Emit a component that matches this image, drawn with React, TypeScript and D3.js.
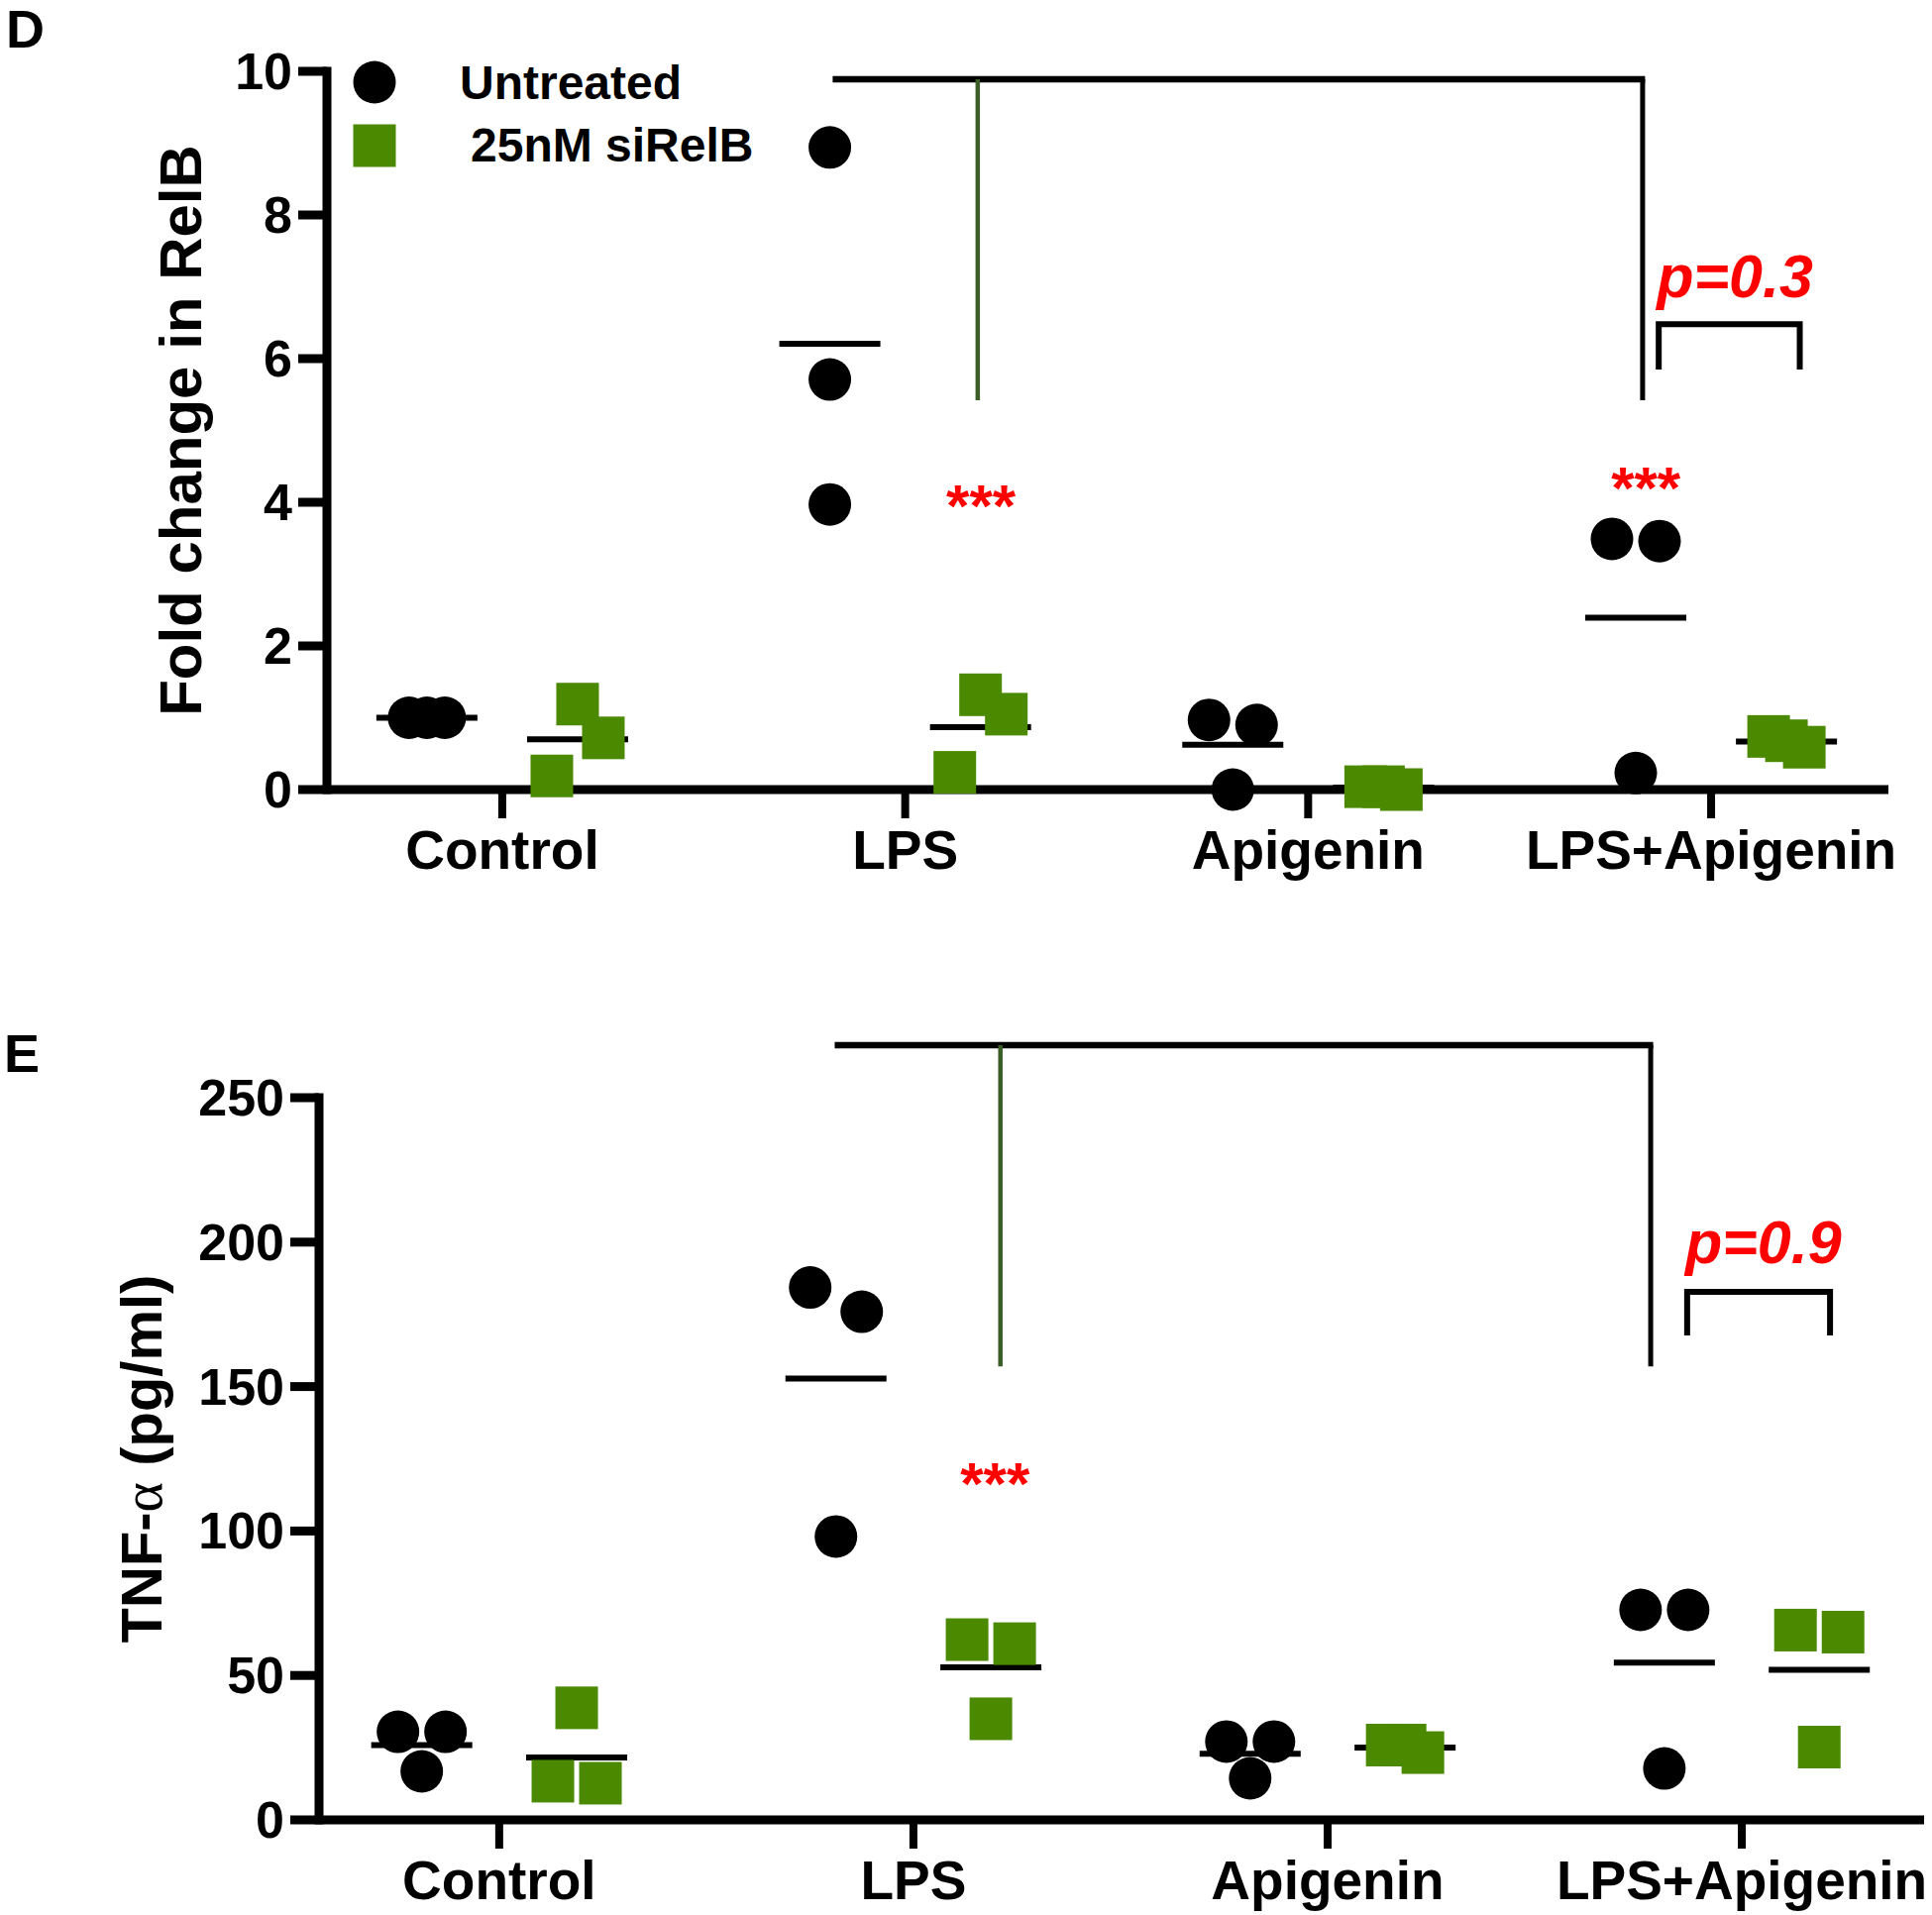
import React from "react";
import * as d3 from "d3";

const groups = ["Control", "LPS", "Apigenin", "LPS+Apigenin"];
const seriesNames = ["Untreated", "25nM siRelB"];
const relbTicks = [0, 2, 4, 6, 8, 10];
const tnfTicks = [0, 50, 100, 150, 200, 250];

const relbUntreated = [
  [1.0, 1.0, 1.0],
  [8.94, 5.71, 3.97],
  [0.97, 0.9, 0.0],
  [3.49, 3.46, 0.23],
];
const relbSiRelB = [
  [1.19, 0.72, 0.19],
  [1.32, 1.05, 0.24],
  [0.04, 0.04, 0.0],
  [0.74, 0.68, 0.59],
];
const tnfUntreated = [
  [30.5, 30.5, 16.8],
  [184.3, 175.9, 98.1],
  [27.1, 27.1, 14.4],
  [72.7, 72.7, 17.8],
];
const tnfSiRelB = [
  [38.8, 13.4, 12.7],
  [62.4, 61.0, 35.0],
  [25.9, 25.9, 23.3],
  [65.7, 65.0, 25.2],
];

// significance annotations (x in group-index units, y in data units)
const relbBracket = { top: 9.89, bottom: 5.42, from: 0.82, mid: 1.18, to: 2.83 };
const tnfBracket = { top: 268.2, bottom: 157.0, from: 0.81, mid: 1.21, to: 2.78 };
const relbStars = [
  { x: 1.188, y: 3.67 },
  { x: 2.838, y: 3.92 },
];
const tnfStars = [{ x: 1.197, y: 109.4 }];
const relbP = { label: "p=0.3", x: 3.059, y: 6.86, top: 6.48, leg: 5.85, from: 2.87, to: 3.22 };
const tnfP = { label: "p=0.9", x: 3.052, y: 192.7, top: 182.8, leg: 167.7, from: 2.868, to: 3.213 };

const GREEN = "#4b8a00";
const DARK_GREEN = "#3b5e26";
const RED = "#ff0000";
const FONT = "'Liberation Sans', Arial, Helvetica, sans-serif";
const SIZE = 43;
const SERIES_OFFSET = 0.187;
const X_DOMAIN: [number, number] = [-0.435, 3.44];

// simple column-scatter layout: near-equal values spread symmetrically,
// overlapping singles pushed sideways
function swarm(values: number[], y: (v: number) => number): number[] {
  const order = values.map((v, i) => i).sort((a, b) => values[b] - values[a]);
  const rows: number[][] = [];
  order.forEach((i) => {
    const row = rows[rows.length - 1];
    if (row && Math.abs(y(values[i]) - y(values[row[0]])) < 15) row.push(i);
    else rows.push([i]);
  });
  const off = new Array(values.length).fill(0);
  const placed: { dx: number; py: number }[] = [];
  const pushedBy: (number | null)[] = new Array(values.length).fill(null);
  const alternated = new Set<number>();
  rows.forEach((row, ri) => {
    if (row.length > 1) {
      const n = row.length;
      const sp = n === 2 ? 48 : 18;
      row.forEach((i, k) => {
        off[i] = (k - (n - 1) / 2) * sp;
        placed.push({ dx: off[i], py: y(values[i]) });
      });
    } else {
      const i = row[0];
      const py = y(values[i]);
      const prev = ri > 0 ? rows[ri - 1] : null;
      let chosen = 0;
      if (prev && prev.length === 1 && off[prev[0]] > 0 && Math.abs(y(values[prev[0]]) - py) < 2 * SIZE) {
        chosen = -26;
        alternated.add(prev[0]);
      } else {
        const cands = [0, 26, -26, 52, -52];
        for (const c of cands) {
          const hit = placed.some((p) => Math.abs(p.py - py) < SIZE && Math.abs(p.dx - c) < 20);
          if (!hit) {
            chosen = c;
            break;
          }
        }
        if (chosen === 26 && prev && prev.length === 1 && off[prev[0]] === 0) pushedBy[i] = prev[0];
      }
      off[i] = chosen;
      placed.push({ dx: chosen, py });
    }
  });
  // a lone overlapping pair is balanced around the centre
  pushedBy.forEach((p, i) => {
    if (p !== null && !alternated.has(i)) off[p] = -26;
  });
  return off;
}

type PanelCfg = {
  letter: string;
  letterPos: [number, number];
  xRange: [number, number];
  yRange: [number, number];
  yDomain: [number, number];
  ticks: number[];
  title: React.ReactNode;
  titleSize: number;
  titleDx: number;
  untreated: number[][];
  siRelB: number[][];
  bracket: typeof relbBracket;
  stars: { x: number; y: number }[];
  p: typeof relbP;
  legend: boolean;
};

function Panel({ cfg }: { cfg: PanelCfg }) {
  const x = d3.scaleLinear().domain(X_DOMAIN).range(cfg.xRange);
  const y = d3.scaleLinear().domain(cfg.yDomain).range(cfg.yRange);
  const ax = cfg.xRange[0];
  const ay = cfg.yRange[0];
  const top = cfg.yRange[1];
  const series = [
    { data: cfg.untreated, off: -SERIES_OFFSET, shape: "circle" },
    { data: cfg.siRelB, off: SERIES_OFFSET, shape: "square" },
  ];
  const b = cfg.bracket;
  return (
    <g>
      <text x={cfg.letterPos[0]} y={cfg.letterPos[1]} fontSize={54} fontWeight="bold" fontFamily={FONT}>
        {cfg.letter}
      </text>
      {/* y axis */}
      <line x1={ax} x2={ax} y1={top - 4.5} y2={ay + 4.5} stroke="#000" strokeWidth={9} />
      {cfg.ticks.map((t) => (
        <g key={t}>
          <line x1={ax - 29} x2={ax} y1={y(t)} y2={y(t)} stroke="#000" strokeWidth={9} />
          <text
            x={ax - 35}
            y={y(t) + 18}
            textAnchor="end"
            fontSize={52}
            fontWeight="bold"
            fontFamily={FONT}
          >
            {t}
          </text>
        </g>
      ))}
      {/* x axis */}
      <line x1={ax} x2={cfg.xRange[1]} y1={ay} y2={ay} stroke="#000" strokeWidth={9} />
      {groups.map((g, i) => (
        <g key={g}>
          <line x1={x(i)} x2={x(i)} y1={ay} y2={ay + 29} stroke="#000" strokeWidth={8} />
          <text x={x(i)} y={ay + 80} textAnchor="middle" fontSize={55} fontWeight="bold" fontFamily={FONT}>
            {g}
          </text>
        </g>
      ))}
      <text
        transform={`translate(${ax - cfg.titleDx},${(ay + top) / 2}) rotate(-90)`}
        textAnchor="middle"
        fontSize={cfg.titleSize}
        fontWeight="bold"
        fontFamily={FONT}
      >
        {cfg.title}
      </text>
      {/* mean lines */}
      {series.map((s, si) =>
        s.data.map((vals, gi) => {
          const m = d3.mean(vals) as number;
          const cx = x(gi + s.off);
          return (
            <line
              key={`m${si}-${gi}`}
              x1={cx - 51}
              x2={cx + 51}
              y1={y(m)}
              y2={y(m)}
              stroke="#000"
              strokeWidth={6}
            />
          );
        })
      )}
      {/* points */}
      {series.map((s, si) =>
        s.data.map((vals, gi) => {
          const offs = swarm(vals, y);
          const cx = x(gi + s.off);
          return vals.map((v, k) =>
            s.shape === "circle" ? (
              <circle key={`p${si}-${gi}-${k}`} cx={cx + offs[k]} cy={y(v)} r={SIZE / 2} fill="#000" />
            ) : (
              <rect
                key={`p${si}-${gi}-${k}`}
                x={cx + offs[k] - SIZE / 2}
                y={y(v) - SIZE / 2}
                width={SIZE}
                height={SIZE}
                fill={GREEN}
              />
            )
          );
        })
      )}
      {/* big comparison bracket */}
      <line x1={x(b.from)} x2={x(b.to) + 2.5} y1={y(b.top)} y2={y(b.top)} stroke="#000" strokeWidth={6.5} />
      <line x1={x(b.mid)} x2={x(b.mid)} y1={y(b.top)} y2={y(b.bottom)} stroke={DARK_GREEN} strokeWidth={4.5} />
      <line x1={x(b.to)} x2={x(b.to)} y1={y(b.top)} y2={y(b.bottom)} stroke="#000" strokeWidth={5} />
      {cfg.stars.map((s, i) => (
        <text
          key={i}
          x={x(s.x)}
          y={y(s.y)}
          textAnchor="middle"
          fontSize={60}
          fontWeight="bold"
          fill={RED}
          fontFamily={FONT}
        >
          ***
        </text>
      ))}
      {/* p value bracket */}
      <text
        x={x(cfg.p.x)}
        y={y(cfg.p.y)}
        textAnchor="middle"
        fontSize={61}
        fontWeight="bold"
        fontStyle="italic"
        fill={RED}
        fontFamily={FONT}
      >
        {cfg.p.label}
      </text>
      <path
        d={`M${x(cfg.p.from)},${y(cfg.p.leg)} V${y(cfg.p.top)} H${x(cfg.p.to)} V${y(cfg.p.leg)}`}
        fill="none"
        stroke="#000"
        strokeWidth={6}
      />
      {cfg.legend && (
        <g fontFamily={FONT} fontWeight="bold" fontSize={48}>
          <circle cx={378} cy={83} r={SIZE / 2} fill="#000" />
          <text x={464} y={100}>
            {seriesNames[0]}
          </text>
          <rect x={378 - SIZE / 2} y={147 - SIZE / 2} width={SIZE} height={SIZE} fill={GREEN} />
          <text x={475} y={163}>
            {seriesNames[1]}
          </text>
        </g>
      )}
    </g>
  );
}

export default function App() {
  const panels: PanelCfg[] = [
    {
      letter: "D",
      letterPos: [6, 48],
      xRange: [330, 1906],
      yRange: [797, 72],
      yDomain: [0, 10],
      ticks: relbTicks,
      title: "Fold change in RelB",
      titleSize: 60,
      titleDx: 127,
      untreated: relbUntreated,
      siRelB: relbSiRelB,
      bracket: relbBracket,
      stars: relbStars,
      p: relbP,
      legend: true,
    },
    {
      letter: "E",
      letterPos: [4, 1082],
      xRange: [322, 1942],
      yRange: [1837, 1108],
      yDomain: [0, 250],
      ticks: tnfTicks,
      title: (
        <>
          TNF-
          <tspan fontFamily="'Liberation Serif', 'DejaVu Serif', serif" fontWeight="normal">
            α
          </tspan>{" "}
          (pg/ml)
        </>
      ),
      titleSize: 58,
      titleDx: 159,
      untreated: tnfUntreated,
      siRelB: tnfSiRelB,
      bracket: tnfBracket,
      stars: tnfStars,
      p: tnfP,
      legend: false,
    },
  ];
  return (
    <svg
      width={1950}
      height={1933}
      viewBox="0 0 1950 1933"
      style={{ position: "absolute", left: 0, top: 0, background: "#fff" }}
    >
      <rect width={1950} height={1933} fill="#fff" />
      {panels.map((p) => (
        <Panel key={p.letter} cfg={p} />
      ))}
    </svg>
  );
}
